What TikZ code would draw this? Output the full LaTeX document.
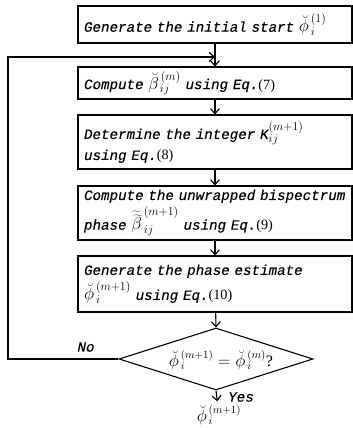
\documentclass[tikz,border=0pt]{standalone}
\usepackage{fontspec}
\setmainfont{Liberation Serif}
\newfontfamily\boxfont[FakeBold=0.3]{Liberation Mono}
\usetikzlibrary{arrows.meta,shapes.geometric}
\newcommand{\eqn}[1]{Eq.{\rmfamily\upshape(#1)}}
\newcommand{\mathbig}[1]{{\fontsize{17}{21}\selectfont$#1$}}
\begin{document}
\begin{tikzpicture}[x=1pt,y=-1pt,
  font=\boxfont\itshape\fontsize{14.2}{21}\selectfont,
  proc/.style={draw, line width=1.1pt, minimum width=274pt, text width=262pt,
    align=left, inner sep=0pt},
  conn/.style={line width=1.1pt, -{Straight Barb[length=5pt,width=9pt,line width=1.1pt]}},
  plain/.style={line width=1.1pt}]
\useasboundingbox (0,0) rectangle (353,428);
\node[proc, minimum height=37pt] (b1) at (215,24.5) {Generate the initial start \mathbig{\breve{\phi}_{\,i}^{\,(1)}}};
\node[proc, minimum height=32pt] (b2) at (215,83) {Compute \mathbig{\breve{\beta}_{\,ij}^{\,(m)}} using \eqn{7}};
\node[proc, minimum height=54pt] (b3) at (215,142) {Determine the integer K\mathbig{_{ij}^{(m+1)}}\\using \eqn{8}};
\node[proc, minimum height=54pt] (b4) at (215,213) {Compute the unwrapped bispectrum\\[3pt]phase \mathbig{\widetilde{\widetilde{\beta}}_{\,ij}^{\,(m+1)}} using \eqn{9}};
\node[proc, minimum height=56pt] (b5) at (215,284) {Generate the phase estimate\\[4pt]\mathbig{\breve{\phi}_{\,i}^{\,(m+1)}} using \eqn{10}};
\node[diamond, draw, line width=1.1pt, minimum width=194pt, minimum height=62pt, inner sep=0pt] (d) at (216,359) {};
\node[font=\fontsize{16}{18}\selectfont] (dt) at (221,360) {$\breve{\phi}_{\,i}^{\,(m+1)}=\breve{\phi}_{\,i}^{\,(m)}$\rmfamily\upshape ?};
\node[font=\fontsize{16}{18}\selectfont] (out) at (219,415) {$\breve{\phi}_{\,i}^{\,(m+1)}$};
\node (no) at (86,347) {No};
\node (yes) at (241,397) {Yes};
\coordinate (j) at (b1.south |- 0,57);
\coordinate (c1) at (8,359);
\coordinate (c2) at (8,57);
\draw[conn] (b1) -- (b2);
\draw[conn] (b2) -- (b3);
\draw[conn] (b3) -- (b4);
\draw[conn] (b4) -- (b5);
\draw[conn] (b5) -- (d.north);
\draw[conn] (d.west) -- (c1) -- (c2) -- (j);
\draw[conn] (d.south) -- (out);
\end{tikzpicture}
\end{document}
